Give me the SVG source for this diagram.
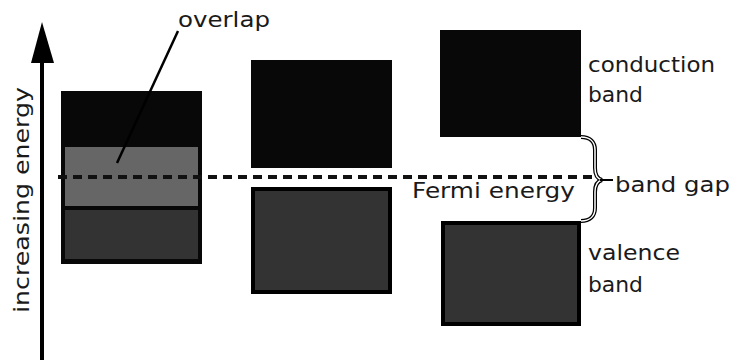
<svg xmlns="http://www.w3.org/2000/svg" width="733" height="360" viewBox="0 0 733 360">
<style>
text{font-family:"DejaVu Sans","Liberation Sans",sans-serif;font-size:21px;fill:#1a1a1a}
.blk{fill:#080808}
.outer{fill:#000}
.dark{fill:#333}
.mid{fill:#666}
</style>
<rect width="733" height="360" fill="#fff"/>
<g id="axis">
<line x1="42" y1="58" x2="42" y2="360" stroke="#000" stroke-width="4"/>
<polygon points="42,22 31,63 54,63" fill="#000"/>
<text transform="translate(29,313) rotate(-90)" textLength="226" lengthAdjust="spacingAndGlyphs" style="font-size:22px">increasing energy</text>
</g>
<g id="metal">
<rect class="blk" x="61" y="91" width="141" height="173"/>
<rect class="mid" x="65" y="147" width="133" height="59"/>
<rect class="dark" x="65" y="210" width="133" height="49"/>
</g>
<g id="semi-conduction">
<rect class="blk" x="251" y="60" width="141" height="108"/>
</g>
<g id="semi-valence">
<rect class="outer" x="251" y="187" width="141" height="107"/>
<rect class="dark" x="255" y="191" width="133" height="99"/>
</g>
<g id="ins-conduction">
<rect class="blk" x="440" y="30" width="141" height="107"/>
</g>
<g id="ins-valence">
<rect class="outer" x="441" y="221" width="140" height="105"/>
<rect class="dark" x="445" y="225" width="132" height="97"/>
</g>
<g id="connectors">
<line x1="58" y1="177" x2="592" y2="177" stroke="#111" stroke-width="4" stroke-dasharray="9,6"/>
<line x1="178" y1="31" x2="117" y2="163" stroke="#000" stroke-width="2.5"/>
<path d="M581,137 C590,137 595,142 595,150 L595,168 C595,175 598,179 602,180 C598,181 595,185 595,192 L595,208 C595,216 590,221 581,221" fill="none" stroke="#000" stroke-width="4"/>
<path d="M581,137 C590,137 595,142 595,150 L595,168 C595,175 598,179 602,180 C598,181 595,185 595,192 L595,208 C595,216 590,221 581,221" fill="none" stroke="#fff" stroke-width="1.5"/>
<line x1="600" y1="180" x2="613" y2="180" stroke="#000" stroke-width="2"/>
</g>
<g id="labels">
<text x="178" y="27" textLength="92" lengthAdjust="spacingAndGlyphs">overlap</text>
<text x="588" y="72" textLength="127" lengthAdjust="spacingAndGlyphs">conduction</text>
<text x="588" y="102" textLength="55" lengthAdjust="spacingAndGlyphs">band</text>
<text x="615" y="192" textLength="115" lengthAdjust="spacingAndGlyphs">band gap</text>
<text x="412" y="198" textLength="163" lengthAdjust="spacingAndGlyphs">Fermi energy</text>
<text x="588" y="260" textLength="92" lengthAdjust="spacingAndGlyphs">valence</text>
<text x="588" y="292" textLength="55" lengthAdjust="spacingAndGlyphs">band</text>
</g>
</svg>
